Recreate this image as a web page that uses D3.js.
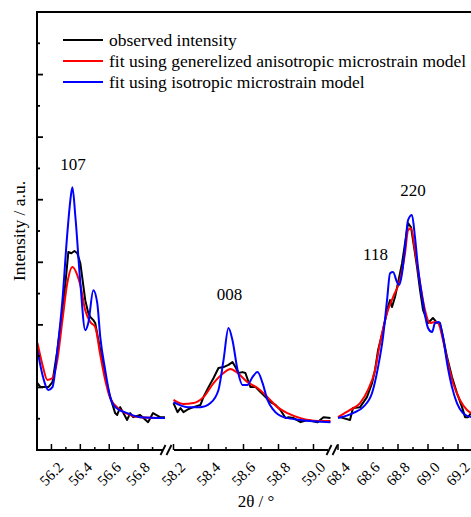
<!DOCTYPE html>
<html><head><meta charset="utf-8">
<script src="https://cdn.jsdelivr.net/npm/d3@7"></script>
<style>body{margin:0;background:#fff}svg{display:block}</style>
</head><body><svg id="c" width="471" height="517" font-family="'Liberation Serif', 'Times New Roman', serif"></svg>
<script>
// ---------- data ----------
const segDomains = [[56.1, 57.0], [58.18, 59.1], [68.38, 69.32]];
const majorTicks = [[56.2, 56.4, 56.6, 56.8], [58.2, 58.4, 58.6, 58.8, 59.0], [68.4, 68.6, 68.8, 69.0, 69.2]];
const minorTicks = [[56.3, 56.5, 56.7, 56.9], [58.3, 58.5, 58.7, 58.9], [68.5, 68.7, 68.9, 69.1, 69.3]];
const yTicks = [1, 2, 3, 4, 5, 6, 7, 8, 9, 10, 11, 12, 13];

const seriesNames = ["observed intensity", "fit using generelized anisotropic microstrain model", "fit using isotropic microstrain model"];
const seriesColors = ["#000000", "#ff0000", "#0000ff"];

// observed intensity
const obsTheta = [56.103,56.124,56.179,56.207,56.241,56.276,56.297,56.317,56.338,56.359,56.379,56.400,56.434,56.455,56.469,56.490,56.503,56.538,56.572,56.607,56.641,56.655,56.676,56.724,56.745,56.766,56.814,56.869,56.903,56.952,56.986,
  58.200,58.223,58.240,58.257,58.286,58.314,58.354,58.371,58.400,58.429,58.457,58.486,58.514,58.537,58.554,58.571,58.594,58.611,58.629,58.640,58.669,58.697,58.726,58.754,58.783,58.811,58.840,58.857,58.886,58.926,58.966,59.023,59.057,59.097,
  68.413,68.480,68.500,68.547,68.593,68.627,68.647,68.667,68.700,68.733,68.747,68.760,68.780,68.800,68.827,68.847,68.867,68.887,68.900,68.927,68.947,68.967,69.000,69.033,69.060,69.080,69.100,69.127,69.160,69.193,69.227,69.247,69.267,69.287];
const obsInt = [2.14,2.01,2.01,2.17,3.19,4.47,5.34,6.33,6.29,6.36,6.29,5.97,4.79,4.38,4.25,4.15,4.06,3.19,2.33,1.69,1.18,1.12,1.37,0.96,1.18,1.05,1.12,0.89,1.18,1.05,1.05,
  1.50,1.21,1.34,1.21,1.31,1.37,1.44,1.69,2.01,2.30,2.62,2.65,2.72,2.81,2.65,2.46,2.49,2.46,2.17,2.01,2.01,1.85,1.69,1.53,1.44,1.28,1.02,1.05,1.02,0.89,0.96,0.89,1.05,1.02,
  1.05,0.96,1.34,1.37,1.69,2.14,2.56,3.19,3.83,4.57,4.79,4.57,4.89,5.34,5.97,6.61,7.25,7.12,6.71,5.85,5.11,4.47,4.06,4.22,4.06,4.06,3.61,2.97,2.33,1.82,1.37,1.05,1.05,1.18];

// fit: generalized anisotropic microstrain model
const anisoTheta = [56.103,56.138,56.172,56.207,56.241,56.276,56.310,56.345,56.379,56.400,56.434,56.469,56.503,56.538,56.572,56.607,56.676,56.745,56.814,56.986,
  58.200,58.257,58.314,58.371,58.429,58.486,58.526,58.566,58.623,58.680,58.737,58.794,58.851,58.926,59.023,59.097,
  68.400,68.480,68.547,68.600,68.647,68.680,68.727,68.767,68.813,68.847,68.867,68.887,68.913,68.947,68.980,69.013,69.047,69.067,69.100,69.133,69.167,69.213,69.260,69.287];
const anisoInt = [3.42,2.72,2.24,2.30,2.88,4.15,5.34,5.85,5.59,5.27,4.47,4.09,3.93,3.04,2.24,1.66,1.28,1.12,1.05,1.02,
  1.60,1.47,1.50,1.69,2.14,2.46,2.59,2.46,2.17,1.98,1.69,1.37,1.18,1.02,0.93,0.93,
  1.05,1.28,1.50,1.92,2.56,3.42,4.38,4.89,5.43,6.29,7.03,7.09,6.39,5.34,4.47,4.06,4.09,4.06,3.51,2.78,2.14,1.60,1.28,1.18];

// fit: isotropic microstrain model
const isoTheta = [56.103,56.138,56.179,56.207,56.241,56.276,56.310,56.331,56.345,56.366,56.400,56.434,56.455,56.490,56.517,56.538,56.572,56.607,56.641,56.724,56.814,56.986,
  58.200,58.280,58.354,58.411,58.457,58.486,58.514,58.537,58.566,58.594,58.623,58.651,58.680,58.709,58.737,58.771,58.829,58.926,59.097,
  68.400,68.500,68.567,68.627,68.667,68.700,68.727,68.747,68.767,68.793,68.807,68.827,68.847,68.867,68.893,68.913,68.933,68.967,69.000,69.027,69.047,69.073,69.100,69.127,69.160,69.193,69.233,69.287];
const isoInt = [3.19,2.40,1.92,2.01,3.19,4.79,6.93,7.99,8.40,7.44,5.34,3.83,4.06,5.11,4.70,3.61,2.56,1.69,1.37,1.18,1.05,1.02,
  1.53,1.37,1.37,1.50,1.92,2.88,3.90,3.51,2.56,2.08,2.08,2.33,2.49,2.14,1.60,1.28,1.05,0.96,0.89,
  1.02,1.18,1.37,1.82,2.65,3.61,4.79,5.65,5.69,5.37,5.27,5.65,6.49,7.35,7.51,6.81,5.85,4.70,3.90,3.77,4.06,4.09,3.61,2.78,2.01,1.50,1.18,1.05];

const peakLabels = ["107", "008", "118", "220"];
const peakTheta = [56.35, 58.52, 68.65, 68.90];
const peakInt = [8.95, 4.79, 6.07, 8.12];
const peakSeg = [0, 1, 2, 2];

// ---------- layout ----------
const svg = d3.select("#c");
const mLeft = 37, mTop = 12, mBottom = 450, mRightEdge = 476;
const segRanges = [[37, 167], [170, 331], [335, mRightEdge]];
const xs = segDomains.map((d, i) => d3.scaleLinear().domain(d).range(segRanges[i]));
const yS = d3.scaleLinear().domain([0, 14]).range([mBottom, mTop]);
const fmt = d3.format(".1f");

svg.append("defs").append("clipPath").attr("id", "clip")
  .append("rect").attr("x", mLeft).attr("y", mTop).attr("width", 471 - mLeft).attr("height", mBottom - mTop);

const series = [[obsTheta, obsInt], [anisoTheta, anisoInt], [isoTheta, isoInt]];
const gS = svg.append("g").attr("clip-path", "url(#clip)");
series.forEach(([th, it], si) => {
  xs.forEach((xsc, k) => {
    const [d0, d1] = segDomains[k];
    const pts = th.map((t, i) => [t, it[i]]).filter(p => p[0] >= d0 - 1e-6 && p[0] <= d1 + 1e-6);
    const line = d3.line().x(p => xsc(p[0])).y(p => yS(p[1]))
      .curve(si === 0 ? d3.curveLinear : d3.curveMonotoneX);
    gS.append("path").datum(pts).attr("d", line)
      .attr("fill", "none").attr("stroke", seriesColors[si]).attr("stroke-width", 2)
      .attr("stroke-linejoin", "round");
  });
});

const ax = svg.append("g").attr("stroke", "#000").attr("stroke-width", 2).attr("fill", "none");
ax.append("line").attr("x1", mLeft).attr("x2", mLeft).attr("y1", mTop - 1).attr("y2", mBottom + 1);
ax.append("line").attr("x1", mLeft - 1).attr("x2", 471).attr("y1", mTop).attr("y2", mTop);
const gapEnds = [[37, 163], [175, 328], [341, 471]];
gapEnds.forEach(([a, b]) => ax.append("line").attr("x1", a - 1).attr("x2", b).attr("y1", mBottom).attr("y2", mBottom));
[168, 334].forEach(c => {
  [-5, 1].forEach(o => ax.append("line")
    .attr("x1", c + o - 2.5).attr("y1", mBottom + 5).attr("x2", c + o + 2.5).attr("y2", mBottom - 5)
    .attr("stroke-width", 1.8));
});

yTicks.forEach(v => {
  ax.append("line").attr("x1", mLeft).attr("x2", mLeft + (v % 2 === 0 ? 6 : 3))
    .attr("y1", yS(v)).attr("y2", yS(v)).attr("stroke-width", 1.8);
});

xs.forEach((xsc, k) => {
  majorTicks[k].forEach(t => ax.append("line").attr("x1", xsc(t)).attr("x2", xsc(t))
    .attr("y1", mBottom).attr("y2", mBottom - 6).attr("stroke-width", 1.5));
  minorTicks[k].forEach(t => { if (xsc(t) < 471) ax.append("line").attr("x1", xsc(t)).attr("x2", xsc(t))
    .attr("y1", mBottom).attr("y2", mBottom - 3).attr("stroke-width", 1.5); });
  majorTicks[k].forEach(t => {
    const px = xsc(t);
    svg.append("text").attr("transform", `translate(${px},${mBottom + 24}) rotate(-45)`)
      .attr("text-anchor", "middle").attr("dominant-baseline", "central")
      .attr("font-size", 15).attr("fill", "#000").text(fmt(t));
  });
});

svg.append("text").attr("transform", `translate(25,231) rotate(-90)`)
  .attr("text-anchor", "middle").attr("font-size", 17.5).text("Intensity / a.u.");
svg.append("text").attr("x", 256).attr("y", 507).attr("text-anchor", "middle")
  .attr("font-size", 17).text("2θ / °");

seriesNames.forEach((n, i) => {
  const ly = 40 + i * 21;
  svg.append("line").attr("x1", 63).attr("x2", 103).attr("y1", ly).attr("y2", ly)
    .attr("stroke", seriesColors[i]).attr("stroke-width", 2);
  svg.append("text").attr("x", 109).attr("y", ly + 6).attr("font-size", 17.5).text(n);
});

peakLabels.forEach((p, i) => {
  svg.append("text").attr("x", xs[peakSeg[i]](peakTheta[i])).attr("y", yS(peakInt[i]))
    .attr("text-anchor", "middle").attr("font-size", 17).text(p);
});
</script></body></html>
